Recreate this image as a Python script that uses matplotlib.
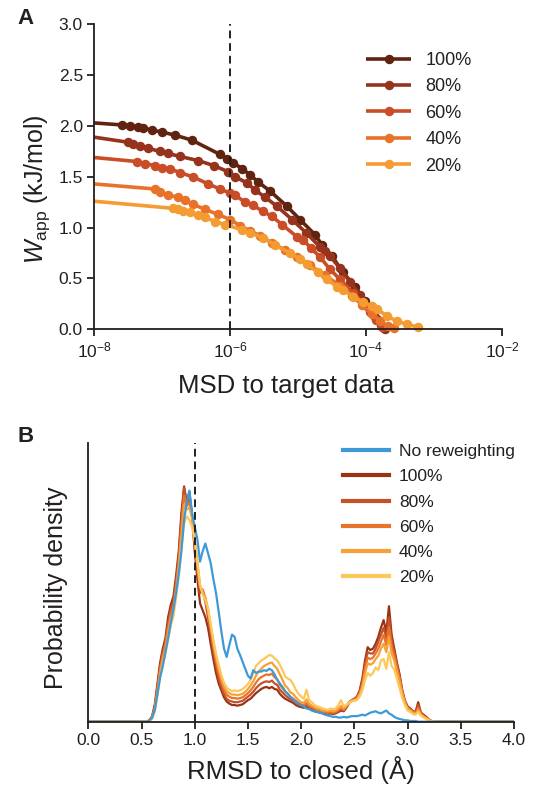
import numpy as np
import matplotlib
matplotlib.use("Agg")
import matplotlib.pyplot as plt
from matplotlib.ticker import NullLocator, FixedLocator
from matplotlib.lines import Line2D

plt.rcParams['font.family'] = ['Liberation Sans', 'DejaVu Sans']
plt.rcParams['mathtext.fontset'] = 'custom'
plt.rcParams['mathtext.rm'] = 'Liberation Sans'
plt.rcParams['mathtext.it'] = 'Liberation Sans:italic'
plt.rcParams['mathtext.bf'] = 'Liberation Sans:bold'
plt.rcParams['axes.unicode_minus'] = True

TXT = '#231f20'

# ---------------- Panel A data (log10 MSD, W_app in kJ/mol) ----------------
labels_a = ['100%', '80%', '60%', '40%', '20%']

msd_log_100 = [-8.000, -7.588, -7.471, -7.353, -7.279, -7.147, -7.000, -6.809, -6.559, -6.147,
               -6.044, -5.956, -5.824, -5.706, -5.588, -5.412, -5.162, -4.971, -4.750, -4.647,
               -4.500, -4.338, -4.162, -4.015, -3.912, -3.824, -3.735]
w_100 = [2.03, 2.01, 2.00, 1.99, 1.98, 1.96, 1.94, 1.91, 1.86, 1.72,
         1.68, 1.64, 1.58, 1.52, 1.45, 1.36, 1.21, 1.08, 0.93, 0.83,
         0.72, 0.56, 0.42, 0.28, 0.18, 0.09, 0.01]

msd_log_80 = [-8.000, -7.500, -7.426, -7.324, -7.206, -7.029, -6.912, -6.735, -6.471, -6.235,
              -6.029, -5.926, -5.750, -5.632, -5.485, -5.309, -5.088, -4.882, -4.676, -4.603,
              -4.529, -4.382, -4.235, -4.088, -3.971, -3.868, -3.779, -3.721]
w_80 = [1.89, 1.84, 1.82, 1.80, 1.78, 1.75, 1.73, 1.70, 1.66, 1.61,
        1.55, 1.50, 1.44, 1.37, 1.30, 1.21, 1.08, 0.95, 0.81, 0.77,
        0.72, 0.60, 0.47, 0.34, 0.22, 0.12, 0.04, 0.00]

msd_log_60 = [-8.000, -7.368, -7.250, -7.103, -7.000, -6.882, -6.735, -6.544, -6.324, -6.147,
              -6.000, -5.926, -5.779, -5.662, -5.515, -5.382, -5.235, -5.015, -4.926, -4.809,
              -4.676, -4.529, -4.382, -4.191, -4.044, -3.941, -3.853, -3.765]
w_60 = [1.69, 1.65, 1.63, 1.61, 1.59, 1.58, 1.54, 1.50, 1.43, 1.38,
        1.34, 1.32, 1.25, 1.22, 1.16, 1.11, 1.03, 0.91, 0.88, 0.80,
        0.71, 0.59, 0.49, 0.36, 0.26, 0.17, 0.09, 0.02]

msd_log_40 = [-8.000, -7.103, -7.029, -6.912, -6.765, -6.662, -6.544, -6.368, -6.176, -6.000,
              -5.853, -5.706, -5.559, -5.382, -5.191, -5.015, -4.824, -4.603, -4.382, -4.206,
              -4.059, -3.912, -3.794, -3.676, -3.588]
w_40 = [1.43, 1.38, 1.35, 1.32, 1.30, 1.27, 1.23, 1.18, 1.13, 1.08,
        1.02, 0.97, 0.92, 0.85, 0.78, 0.71, 0.63, 0.53, 0.43, 0.33,
        0.24, 0.15, 0.08, 0.03, 0.01]

msd_log_20 = [-8.000, -6.838, -6.765, -6.691, -6.588, -6.471, -6.368, -6.221, -6.074, -5.824,
              -5.706, -5.515, -5.338, -5.118, -4.971, -4.868, -4.706, -4.574, -4.426, -4.338,
              -4.191, -4.044, -3.912, -3.838, -3.691, -3.544, -3.397, -3.235]
w_20 = [1.26, 1.19, 1.18, 1.16, 1.15, 1.12, 1.10, 1.06, 1.03, 0.98,
        0.95, 0.90, 0.83, 0.75, 0.69, 0.64, 0.56, 0.49, 0.42, 0.39,
        0.32, 0.27, 0.23, 0.20, 0.13, 0.08, 0.05, 0.02]

colors_a = ['#5f2310', '#96331c', '#c94d27', '#e8722a', '#f49b31']
msd_target = 1e-6
xticks_a = [1e-8, 1e-6, 1e-4, 1e-2]
xticklabels_a = ['$10^{-8}$', '$10^{-6}$', '$10^{-4}$', '$10^{-2}$']
yticks_a = [0.0, 0.5, 1.0, 1.5, 2.0, 2.5, 3.0]

# ---------------- Panel B data (RMSD grid in Angstrom, densities) ----------------
rmsd_inner = list(np.round(np.arange(0.55, 3.2501, 0.025), 3))
rmsd = [0.0] + rmsd_inner + [4.0]

dens_none = [0.00, 0.02, 0.06, 0.17, 0.40, 0.64, 0.80, 1.00, 1.20, 1.42,
             1.62, 1.85, 2.12, 2.45, 2.90, 3.15, 3.32, 3.00, 2.80, 2.62,
             2.30, 2.45, 2.56, 2.42, 2.28, 2.05, 1.85, 1.58, 1.30, 1.05,
             0.93, 1.10, 1.25, 1.22, 1.05, 0.96, 0.86, 0.76, 0.66, 0.62,
             0.74, 0.70, 0.72, 0.72, 0.74, 0.73, 0.76, 0.74, 0.68, 0.60,
             0.55, 0.50, 0.44, 0.40, 0.35, 0.32, 0.28, 0.26, 0.24, 0.22,
             0.19, 0.18, 0.16, 0.15, 0.14, 0.13, 0.12, 0.10, 0.09, 0.08,
             0.07, 0.07, 0.06, 0.06, 0.07, 0.06, 0.07, 0.08, 0.08, 0.08,
             0.09, 0.10, 0.09, 0.11, 0.13, 0.14, 0.15, 0.13, 0.12, 0.14,
             0.16, 0.12, 0.10, 0.07, 0.05, 0.04, 0.03, 0.02, 0.02, 0.01,
             0.01, 0.01, 0.00, 0.00, 0.00, 0.00, 0.00, 0.00, 0.00]

dens_100 = [0.00, 0.02, 0.08, 0.25, 0.55, 0.85, 1.05, 1.20, 1.50, 1.68,
            1.80, 2.10, 2.45, 3.00, 3.38, 3.15, 3.30, 2.95, 2.45, 2.05,
            1.70, 1.60, 1.50, 1.35, 1.12, 0.90, 0.70, 0.55, 0.45, 0.35,
            0.29, 0.26, 0.24, 0.24, 0.23, 0.24, 0.25, 0.28, 0.31, 0.33,
            0.37, 0.41, 0.44, 0.47, 0.49, 0.50, 0.48, 0.50, 0.47, 0.46,
            0.40, 0.36, 0.33, 0.31, 0.29, 0.27, 0.24, 0.22, 0.21, 0.20,
            0.21, 0.19, 0.17, 0.15, 0.14, 0.13, 0.12, 0.12, 0.11, 0.12,
            0.11, 0.12, 0.14, 0.16, 0.15, 0.20, 0.27, 0.30, 0.33, 0.36,
            0.45, 0.62, 0.88, 1.07, 1.03, 1.05, 1.12, 1.22, 1.35, 1.46,
            1.28, 1.66, 1.25, 1.05, 0.85, 0.68, 0.45, 0.30, 0.22, 0.19,
            0.15, 0.14, 0.28, 0.13, 0.10, 0.07, 0.03, 0.01, 0.00]

dens_80 = [0.00, 0.02, 0.07, 0.22, 0.50, 0.80, 1.00, 1.15, 1.42, 1.62,
           1.72, 2.02, 2.38, 2.90, 3.36, 3.12, 3.22, 2.98, 2.52, 2.15,
           1.85, 1.88, 1.72, 1.50, 1.25, 1.00, 0.80, 0.62, 0.50, 0.40,
           0.33, 0.30, 0.29, 0.28, 0.28, 0.29, 0.30, 0.33, 0.36, 0.39,
           0.43, 0.48, 0.52, 0.55, 0.57, 0.58, 0.57, 0.59, 0.55, 0.53,
           0.46, 0.42, 0.38, 0.35, 0.32, 0.30, 0.27, 0.25, 0.23, 0.22,
           0.24, 0.21, 0.19, 0.17, 0.15, 0.14, 0.13, 0.13, 0.12, 0.13,
           0.12, 0.13, 0.15, 0.18, 0.16, 0.21, 0.28, 0.31, 0.33, 0.35,
           0.43, 0.58, 0.82, 1.00, 0.98, 0.98, 1.05, 1.15, 1.25, 1.35,
           1.20, 1.50, 1.18, 1.00, 0.82, 0.65, 0.44, 0.29, 0.21, 0.18,
           0.15, 0.13, 0.24, 0.12, 0.09, 0.06, 0.03, 0.01, 0.00]

dens_60 = [0.00, 0.02, 0.06, 0.20, 0.46, 0.75, 0.95, 1.10, 1.35, 1.55,
           1.66, 1.95, 2.30, 2.80, 3.25, 3.10, 3.15, 2.95, 2.58, 2.22,
           1.92, 1.90, 1.78, 1.58, 1.33, 1.08, 0.88, 0.70, 0.57, 0.46,
           0.39, 0.36, 0.34, 0.34, 0.33, 0.34, 0.35, 0.38, 0.41, 0.45,
           0.50, 0.56, 0.61, 0.64, 0.66, 0.68, 0.67, 0.69, 0.64, 0.61,
           0.53, 0.48, 0.43, 0.40, 0.36, 0.33, 0.30, 0.27, 0.25, 0.24,
           0.27, 0.23, 0.21, 0.19, 0.17, 0.16, 0.14, 0.14, 0.13, 0.14,
           0.13, 0.14, 0.17, 0.20, 0.17, 0.22, 0.28, 0.31, 0.32, 0.34,
           0.41, 0.54, 0.76, 0.92, 0.90, 0.92, 0.98, 1.05, 1.15, 1.25,
           1.10, 1.36, 1.08, 0.95, 0.78, 0.62, 0.42, 0.28, 0.20, 0.17,
           0.14, 0.12, 0.20, 0.11, 0.08, 0.05, 0.02, 0.01, 0.00]

dens_40 = [0.00, 0.01, 0.05, 0.18, 0.42, 0.70, 0.90, 1.05, 1.28, 1.48,
           1.60, 1.88, 2.22, 2.68, 3.12, 3.05, 3.08, 2.92, 2.62, 2.28,
           1.95, 1.85, 1.78, 1.62, 1.38, 1.14, 0.93, 0.76, 0.62, 0.51,
           0.44, 0.41, 0.39, 0.39, 0.38, 0.39, 0.40, 0.43, 0.47, 0.52,
           0.58, 0.66, 0.72, 0.76, 0.80, 0.82, 0.84, 0.85, 0.80, 0.76,
           0.68, 0.60, 0.52, 0.48, 0.42, 0.40, 0.35, 0.31, 0.28, 0.27,
           0.32, 0.26, 0.23, 0.21, 0.19, 0.18, 0.16, 0.16, 0.15, 0.16,
           0.15, 0.16, 0.19, 0.23, 0.19, 0.23, 0.28, 0.30, 0.31, 0.33,
           0.39, 0.50, 0.70, 0.84, 0.82, 0.84, 0.90, 0.95, 1.05, 1.12,
           1.00, 1.22, 0.98, 0.88, 0.72, 0.58, 0.40, 0.27, 0.19, 0.16,
           0.13, 0.11, 0.17, 0.10, 0.07, 0.05, 0.02, 0.01, 0.00]

dens_20 = [0.00, 0.01, 0.04, 0.15, 0.38, 0.64, 0.82, 0.98, 1.18, 1.38,
           1.52, 1.78, 2.10, 2.50, 2.85, 2.95, 2.90, 2.80, 2.60, 2.30,
           1.98, 1.82, 1.75, 1.62, 1.40, 1.18, 0.98, 0.82, 0.67, 0.56,
           0.49, 0.46, 0.44, 0.45, 0.44, 0.45, 0.47, 0.50, 0.54, 0.60,
           0.70, 0.80, 0.84, 0.88, 0.90, 0.93, 0.96, 0.95, 0.91, 0.88,
           0.82, 0.74, 0.65, 0.62, 0.60, 0.54, 0.46, 0.40, 0.36, 0.33,
           0.46, 0.31, 0.28, 0.24, 0.22, 0.21, 0.19, 0.18, 0.17, 0.19,
           0.18, 0.19, 0.24, 0.31, 0.22, 0.24, 0.27, 0.29, 0.30, 0.31,
           0.36, 0.45, 0.60, 0.70, 0.66, 0.70, 0.78, 0.74, 0.88, 0.90,
           0.76, 1.00, 0.80, 0.75, 0.62, 0.48, 0.34, 0.24, 0.16, 0.14,
           0.11, 0.10, 0.14, 0.09, 0.06, 0.04, 0.02, 0.01, 0.00]

labels_b = ['No reweighting', '100%', '80%', '60%', '40%', '20%']
colors_b = ['#3d9ad6', '#9a3216', '#c5502a', '#e8742c', '#f7a037', '#fdc75c']
rmsd_ref = 1.0
xticks_b = [0.0, 0.5, 1.0, 1.5, 2.0, 2.5, 3.0, 3.5, 4.0]

# ---------------- Figure ----------------
W, H = 534, 785
fig = plt.figure(figsize=(W / 100, H / 100), dpi=100)
fig.patch.set_facecolor('white')


def style_axes(ax):
    for s in ['top', 'right']:
        ax.spines[s].set_visible(False)
    for s in ['left', 'bottom']:
        ax.spines[s].set_linewidth(1.3)
        ax.spines[s].set_color(TXT)
    ax.tick_params(direction='out', length=5, width=1.3, colors=TXT,
                   labelsize=12.5, labelcolor=TXT, pad=3)


# Panel A
ax1 = fig.add_axes([94 / W, 1 - 329.3 / H, 408 / W, 305 / H])
style_axes(ax1)
ax1.set_xscale('log')
series_a = [(msd_log_100, w_100), (msd_log_80, w_80), (msd_log_60, w_60),
            (msd_log_40, w_40), (msd_log_20, w_20)]
for (lx, wy), c, lab in zip(series_a, colors_a, labels_a):
    ax1.plot(10.0 ** np.array(lx), wy, color=c, lw=2.6, marker='o', ms=5.8,
             markevery=slice(1, None), label=lab, clip_on=False, solid_capstyle='butt')
ax1.plot([msd_target, msd_target], [0, 3.0], color=TXT, lw=1.4, ls=(0, (4, 2.5)))
ax1.set_xlim(1e-8, 1e-2)
ax1.set_ylim(0, 3.0)
ax1.xaxis.set_major_locator(FixedLocator(xticks_a))
ax1.xaxis.set_minor_locator(NullLocator())
ax1.set_xticklabels(xticklabels_a)
ax1.set_yticks(yticks_a)
ax1.set_yticklabels([f'{v:.1f}' for v in yticks_a])
ax1.set_xlabel('MSD to target data', fontsize=18.5, color=TXT)
ax1.xaxis.set_label_coords(0.47, -0.145)
ax1.set_ylabel(r'$W_{\mathrm{app}}$ (kJ/mol)', fontsize=18, color=TXT)
ax1.yaxis.set_label_coords(-0.103, 0.46)
leg1 = ax1.legend(loc='upper left', bbox_to_anchor=(366 / W, 1 - 52 / H),
                  bbox_transform=fig.transFigure, frameon=False, fontsize=13,
                  handlelength=2.5, handletextpad=0.8, labelspacing=0.52,
                  borderpad=0, borderaxespad=0)
for t in leg1.get_texts():
    t.set_color(TXT)

# Panel B
ax2 = fig.add_axes([88.3 / W, 1 - 721.7 / H, 425.7 / W, 278.4 / H])
style_axes(ax2)
series_b = [dens_none, dens_100, dens_80, dens_60, dens_40, dens_20]
draw_order = [1, 2, 3, 4, 5, 0]
for i in draw_order:
    y = [0.0] + series_b[i] + [0.0]
    ax2.plot(rmsd, y, color=colors_b[i], lw=1.6, label=labels_b[i])
ax2.plot([rmsd_ref, rmsd_ref], [0, 4.0], color=TXT, lw=1.4, ls=(0, (4, 2.5)))
ax2.set_xlim(0, 4.0)
ax2.set_ylim(0, 4.0)
ax2.set_xticks(xticks_b)
ax2.set_xticklabels([f'{v:.1f}' for v in xticks_b])
ax2.set_yticks([])
ax2.set_xlabel('RMSD to closed (Å)', fontsize=18.5, color=TXT, labelpad=6)
ax2.set_ylabel('Probability density', fontsize=18, color=TXT)
ax2.yaxis.set_label_coords(-0.048, 0.48)
handles_b = [Line2D([0], [0], color=colors_b[i], lw=3.0) for i in range(6)]
leg2 = ax2.legend(handles_b, labels_b, loc='upper left',
                  bbox_to_anchor=(342.7 / W, 1 - 444 / H), bbox_transform=fig.transFigure,
                  frameon=False, fontsize=12.5, handlelength=2.68, handletextpad=0.55,
                  labelspacing=0.58, borderpad=0, borderaxespad=0)
for t in leg2.get_texts():
    t.set_color(TXT)

fig.text(26 / W, 1 - 18 / H, 'A', fontsize=16, fontweight='bold', color=TXT,
         ha='center', va='center')
fig.text(26 / W, 1 - 437 / H, 'B', fontsize=16, fontweight='bold', color=TXT,
         ha='center', va='center')

fig.savefig('out.png', dpi=100, facecolor='white')
